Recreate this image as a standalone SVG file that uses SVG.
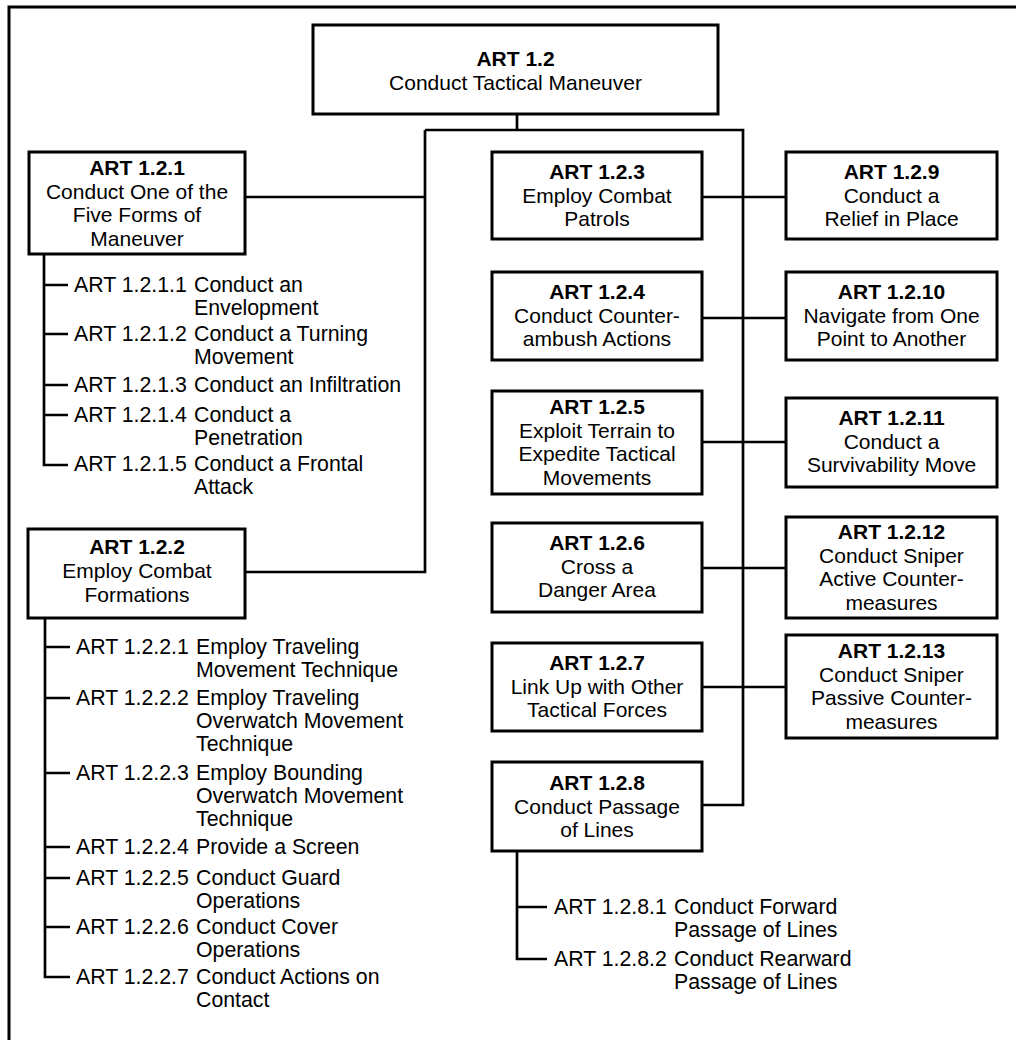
<svg xmlns="http://www.w3.org/2000/svg" width="1016" height="1040" viewBox="0 0 1016 1040">
<style>
.box{fill:#fff;stroke:#000;stroke-width:3}
.ln{fill:none;stroke:#000;stroke-width:2.7}
.frame{fill:none;stroke:#000;stroke-width:3}
text{font-family:"Liberation Sans",Arial,sans-serif;fill:#000}
.t{font-size:21px;text-anchor:middle}
.b{font-weight:bold}
.li{font-size:21.3px}
</style>
<rect width="1016" height="1040" fill="#fff"/>
<path class="frame" d="M9,1040 V7 H1016"/>
<g id="connectors">
<path class="ln" d="M517,114 V130"/>
<path class="ln" d="M425,130 H743 V805 H702"/>
<path class="ln" d="M425,130 V572 H245"/>
<path class="ln" d="M245,197 H425"/>
<path class="ln" d="M702,197 H786"/>
<path class="ln" d="M702,318 H786"/>
<path class="ln" d="M702,442 H786"/>
<path class="ln" d="M702,568 H786"/>
<path class="ln" d="M702,687 H786"/>
<path class="ln" d="M44,254 V465 H68 M44,285 H68 M44,334 H68 M44,385 H68 M44,415 H68"/>
<path class="ln" d="M45,618 V977 H70 M45,647 H70 M45,698 H70 M45,773 H70 M45,847 H70 M45,878 H70 M45,927 H70"/>
<path class="ln" d="M517,851 V959 H547 M517,907 H547"/>
</g>
<g id="n1_2">
<rect class="box" x="313" y="25" width="405" height="89"/>
<text class="t" x="515.5" y="66"><tspan class="b">ART 1.2</tspan><tspan x="515.5" y="90">Conduct Tactical Maneuver</tspan></text>
</g>
<g id="n1_2_1">
<rect class="box" x="29" y="152" width="216" height="102"/>
<text class="t" x="137" y="175"><tspan class="b">ART 1.2.1</tspan><tspan x="137" y="198.5">Conduct One of the</tspan><tspan x="137" y="222">Five Forms of</tspan><tspan x="137" y="245.5">Maneuver</tspan></text>
</g>
<g id="list1_2_1" class="li">
<text x="74" y="292">ART 1.2.1.1</text><text x="194" y="292">Conduct an<tspan x="194" y="315">Envelopment</tspan></text>
<text x="74" y="341">ART 1.2.1.2</text><text x="194" y="341">Conduct a Turning<tspan x="194" y="364">Movement</tspan></text>
<text x="74" y="392">ART 1.2.1.3</text><text x="194" y="392">Conduct an Infiltration</text>
<text x="74" y="422">ART 1.2.1.4</text><text x="194" y="422">Conduct a<tspan x="194" y="445">Penetration</tspan></text>
<text x="74" y="471">ART 1.2.1.5</text><text x="194" y="471">Conduct a Frontal<tspan x="194" y="494">Attack</tspan></text>
</g>
<g id="n1_2_2">
<rect class="box" x="28" y="529" width="217" height="89"/>
<text class="t" x="137" y="554"><tspan class="b">ART 1.2.2</tspan><tspan x="137" y="578">Employ Combat</tspan><tspan x="137" y="602">Formations</tspan></text>
</g>
<g id="list1_2_2" class="li">
<text x="76" y="654">ART 1.2.2.1</text><text x="196" y="654">Employ Traveling<tspan x="196" y="677">Movement Technique</tspan></text>
<text x="76" y="705">ART 1.2.2.2</text><text x="196" y="705">Employ Traveling<tspan x="196" y="728">Overwatch Movement</tspan><tspan x="196" y="751">Technique</tspan></text>
<text x="76" y="780">ART 1.2.2.3</text><text x="196" y="780">Employ Bounding<tspan x="196" y="803">Overwatch Movement</tspan><tspan x="196" y="826">Technique</tspan></text>
<text x="76" y="854">ART 1.2.2.4</text><text x="196" y="854">Provide a Screen</text>
<text x="76" y="885">ART 1.2.2.5</text><text x="196" y="885">Conduct Guard<tspan x="196" y="908">Operations</tspan></text>
<text x="76" y="934">ART 1.2.2.6</text><text x="196" y="934">Conduct Cover<tspan x="196" y="957">Operations</tspan></text>
<text x="76" y="984">ART 1.2.2.7</text><text x="196" y="984">Conduct Actions on<tspan x="196" y="1007">Contact</tspan></text>
</g>
<g id="n1_2_3">
<rect class="box" x="492" y="152" width="210" height="87"/>
<text class="t" x="597" y="179"><tspan class="b">ART 1.2.3</tspan><tspan x="597" y="202.5">Employ Combat</tspan><tspan x="597" y="226">Patrols</tspan></text>
</g>
<g id="n1_2_4">
<rect class="box" x="492" y="272" width="210" height="88"/>
<text class="t" x="597" y="299"><tspan class="b">ART 1.2.4</tspan><tspan x="597" y="322.5">Conduct Counter-</tspan><tspan x="597" y="346">ambush Actions</tspan></text>
</g>
<g id="n1_2_5">
<rect class="box" x="492" y="391" width="210" height="103"/>
<text class="t" x="597" y="414"><tspan class="b">ART 1.2.5</tspan><tspan x="597" y="437.5">Exploit Terrain to</tspan><tspan x="597" y="461">Expedite Tactical</tspan><tspan x="597" y="484.5">Movements</tspan></text>
</g>
<g id="n1_2_6">
<rect class="box" x="492" y="523" width="210" height="89"/>
<text class="t" x="597" y="550"><tspan class="b">ART 1.2.6</tspan><tspan x="597" y="573.5">Cross a</tspan><tspan x="597" y="597">Danger Area</tspan></text>
</g>
<g id="n1_2_7">
<rect class="box" x="492" y="643" width="210" height="88"/>
<text class="t" x="597" y="670"><tspan class="b">ART 1.2.7</tspan><tspan x="597" y="693.5">Link Up with Other</tspan><tspan x="597" y="717">Tactical Forces</tspan></text>
</g>
<g id="n1_2_8">
<rect class="box" x="492" y="762" width="210" height="89"/>
<text class="t" x="597" y="790"><tspan class="b">ART 1.2.8</tspan><tspan x="597" y="813.5">Conduct Passage</tspan><tspan x="597" y="837">of Lines</tspan></text>
</g>
<g id="list1_2_8" class="li">
<text x="554" y="914">ART 1.2.8.1</text><text x="674" y="914">Conduct Forward<tspan x="674" y="937">Passage of Lines</tspan></text>
<text x="554" y="966">ART 1.2.8.2</text><text x="674" y="966">Conduct Rearward<tspan x="674" y="989">Passage of Lines</tspan></text>
</g>
<g id="n1_2_9">
<rect class="box" x="786" y="152" width="211" height="87"/>
<text class="t" x="891.5" y="179"><tspan class="b">ART 1.2.9</tspan><tspan x="891.5" y="202.5">Conduct a</tspan><tspan x="891.5" y="226">Relief in Place</tspan></text>
</g>
<g id="n1_2_10">
<rect class="box" x="786" y="272" width="211" height="88"/>
<text class="t" x="891.5" y="299"><tspan class="b">ART 1.2.10</tspan><tspan x="891.5" y="322.5">Navigate from One</tspan><tspan x="891.5" y="346">Point to Another</tspan></text>
</g>
<g id="n1_2_11">
<rect class="box" x="786" y="398" width="211" height="89"/>
<text class="t" x="891.5" y="425"><tspan class="b">ART 1.2.11</tspan><tspan x="891.5" y="448.5">Conduct a</tspan><tspan x="891.5" y="472">Survivability Move</tspan></text>
</g>
<g id="n1_2_12">
<rect class="box" x="786" y="517" width="211" height="101"/>
<text class="t" x="891.5" y="539"><tspan class="b">ART 1.2.12</tspan><tspan x="891.5" y="562.5">Conduct Sniper</tspan><tspan x="891.5" y="586">Active Counter-</tspan><tspan x="891.5" y="609.5">measures</tspan></text>
</g>
<g id="n1_2_13">
<rect class="box" x="786" y="635" width="211" height="103"/>
<text class="t" x="891.5" y="658"><tspan class="b">ART 1.2.13</tspan><tspan x="891.5" y="681.5">Conduct Sniper</tspan><tspan x="891.5" y="705">Passive Counter-</tspan><tspan x="891.5" y="728.5">measures</tspan></text>
</g>
</svg>
